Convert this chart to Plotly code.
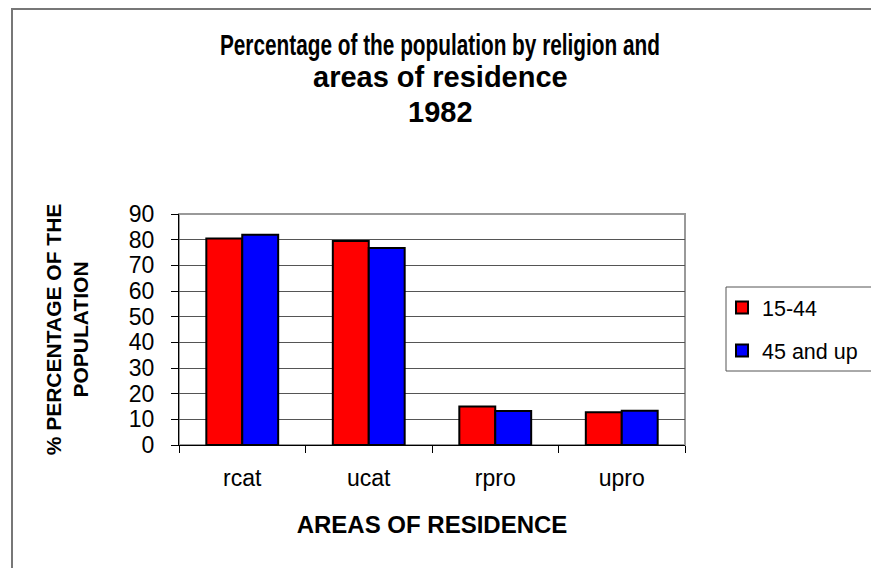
import plotly.graph_objects as go

categories = ["rcat", "ucat", "rpro", "upro"]
series_names = ["15-44", "45 and up"]
values_15_44 = [80.5, 79.5, 15.0, 12.8]
values_45_up = [81.9, 76.8, 13.2, 13.3]
colors = ["#FF0000", "#0000FF"]
y_ticks = [0, 10, 20, 30, 40, 50, 60, 70, 80, 90]
title_lines = ["Percentage of the population by religion and", "areas of residence", "1982"]
title_centers = [45, 77, 112]

W, H = 871, 568
L, R, T, B = 179, 685, 214, 445  # plot area in px


def px_x(x):
    return (x - L) / (R - L)


def px_y(y):
    return 1 - (y - T) / (B - T)


FONT = "Liberation Sans, Arial, sans-serif"

fig = go.Figure()
for name, vals, col in zip(series_names, [values_15_44, values_45_up], colors):
    fig.add_trace(go.Bar(
        x=categories, y=vals, name=name, legendgroup=name,
        marker=dict(color=col, line=dict(color="black", width=2)),
    ))

fig.update_layout(
    width=W, height=H,
    margin=dict(l=L, r=W - R, t=T, b=H - B, autoexpand=False),
    paper_bgcolor="white", plot_bgcolor="white",
    barmode="group", bargap=0.432, bargroupgap=0,
    font=dict(family=FONT, color="black"),
    showlegend=True,
    legend=dict(
        x=px_x(722), y=px_y(287), xanchor="left", yanchor="top",
        font=dict(size=21.5, family=FONT, color="black"),
        bgcolor="rgba(0,0,0,0)", borderwidth=0,
        traceorder="grouped", tracegroupgap=12, itemwidth=30,
    ),
    xaxis=dict(
        showgrid=False, showline=True, linecolor="black", linewidth=1,
        ticks="outside", ticklen=7, tickcolor="black", tickson="boundaries",
        ticklabelstandoff=12,
        tickfont=dict(size=23, family=FONT, color="black"),
        title=dict(text="<b>AREAS OF RESIDENCE</b>", standoff=26,
                   font=dict(size=24, family=FONT, color="black")),
    ),
    yaxis=dict(
        range=[0, 90], tickvals=y_ticks, showgrid=True, gridcolor="#555555", gridwidth=1,
        showline=True, linecolor="black", linewidth=1,
        ticks="outside", ticklen=7, tickcolor="black",
        ticklabelstandoff=12,
        tickfont=dict(size=23, family=FONT, color="black"),
        zeroline=False,
        title=dict(text="<b>% PERCENTAGE OF THE<br>POPULATION</b>", standoff=34,
                   font=dict(size=21, family=FONT, color="black")),
    ),
)

# plot area frame (gray, top and right)
fig.add_shape(type="rect", xref="paper", yref="paper", x0=0, x1=1, y0=0, y1=1,
              line=dict(color="#999999", width=2), layer="below")
# outer chart border
fig.add_shape(type="rect", xref="paper", yref="paper",
              x0=px_x(12), x1=px_x(W + 20), y0=px_y(H + 20), y1=px_y(9),
              line=dict(color="#777777", width=2), layer="below")
# legend box
fig.add_shape(type="rect", xref="paper", yref="paper",
              x0=px_x(726), x1=px_x(W + 20), y0=px_y(371), y1=px_y(287),
              line=dict(color="#555555", width=1), layer="below")

for line, yc in zip(title_lines, title_centers):
    fig.add_annotation(text=line, xref="paper", yref="paper",
                       x=px_x(440), y=px_y(yc), xanchor="center", yanchor="middle",
                       showarrow=False,
                       font=dict(size=29, family=FONT, color="black", weight="bold"))

post = """
document.body.style.margin='0';
document.body.style.overflow='hidden';
document.querySelectorAll('text.annotation-text').forEach(function(t){
  if (t.textContent.indexOf('Percentage') === 0) {
    t.setAttribute('textLength', '440');
    t.setAttribute('lengthAdjust', 'spacingAndGlyphs');
  }
});
"""

fig.write_html("out.html", post_script=post, config={"displayModeBar": False})
